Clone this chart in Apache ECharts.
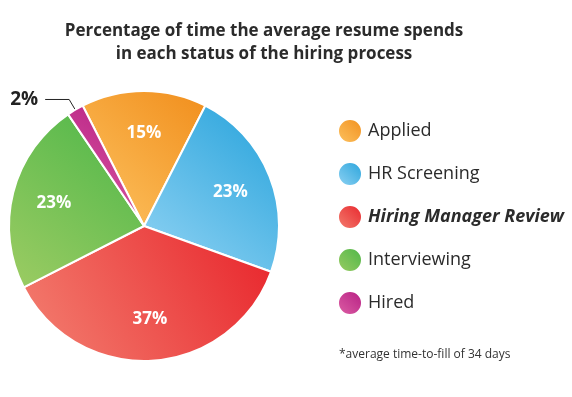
<!DOCTYPE html>
<html>
<head>
<meta charset="utf-8">
<script src="https://cdn.jsdelivr.net/npm/echarts@6/dist/echarts.min.js"></script>
<style>
  html, body { margin: 0; padding: 0; background: #fff; }
  #chart { width: 572px; height: 397px; }
</style>
</head>
<body>
<div id="chart"></div>
<script>
var stages = ['Applied', 'HR Screening', 'Hiring Manager Review', 'Interviewing', 'Hired'];
var shares = [15, 23, 37, 23, 2];
// light -> dark gradient stops for each slice
var lightColors = ['#FDC462', '#93D4F4', '#F38172', '#9DCC63', '#DE62A6'];
var darkColors = ['#F18E1C', '#25A2DB', '#E8232A', '#4BB648', '#B51C82'];

var chart = echarts.init(document.getElementById('chart'));

function grad(i) {
	return {
		type : 'linear',
		x : 0, y : 1, x2 : 1, y2 : 0,
		colorStops : [ { offset : 0, color : lightColors[i] }, { offset : 1, color : darkColors[i] } ]
	};
}

var mainData = stages.map(function(name, i) {
	var small = shares[i] < 5;
	return {
		name : name,
		value : shares[i],
		itemStyle : { color : grad(i) },
		label : { show : small },
		labelLine : { show : small }
	};
});

var labelData = stages.map(function(name, i) {
	return {
		name : name,
		value : shares[i],
		label : { show : shares[i] >= 5 }
	};
});

var font = '"Open Sans", "Noto Sans", sans-serif';

var option = {
	animation : false,
	textStyle : { fontFamily : font },
	legend : {
		orient : 'vertical',
		left : 332,
		top : 113,
		icon : 'circle',
		itemWidth : 24,
		itemHeight : 24,
		itemGap : 17,
		data : stages,
		selectedMode : false,
		textStyle : {
			fontFamily : font,
			fontSize : 18,
			color : '#2b2b2b',
			padding : [ 0, 0, 0, 1 ],
			rich : {
				b : { fontFamily : font, fontSize : 18, fontWeight : 'bold', fontStyle : 'italic', color : '#2b2b2b' }
			}
		},
		formatter : function(name) {
			return name === 'Hiring Manager Review' ? '{b|' + name + '}' : name;
		}
	},
	graphic : [ {
		type : 'text',
		x : 264,
		y : 20,
		style : {
			text : 'Percentage of time the average resume spends\nin each status of the hiring process',
			textAlign : 'center',
			font : 'bold 17px ' + font,
			lineHeight : 23,
			fill : '#2b2b2b'
		}
	}, {
		type : 'text',
		x : 339,
		y : 349,
		style : {
			text : '*average time-to-fill of 34 days',
			font : '12px ' + font,
			fill : '#333'
		}
	} ],
	series : [ {
		type : 'pie',
		center : [ 144, 226 ],
		radius : 135,
		startAngle : 117,
		clockwise : true,
		itemStyle : { borderColor : '#fff', borderWidth : 2 },
		label : {
			show : false,
			position : 'outside',
			formatter : '{c}%',
			fontFamily : font,
			fontSize : 19,
			fontWeight : 'bold',
			color : '#222',
			distanceToLabelLine : 7
		},
		labelLine : {
			show : false,
			length : 12,
			length2 : 24,
			lineStyle : { color : '#222', width : 1 }
		},
		emphasis : { disabled : true },
		data : mainData
	}, {
		type : 'pie',
		center : [ 144, 226 ],
		radius : [ 45, 135 ],
		startAngle : 117,
		clockwise : true,
		silent : true,
		itemStyle : { color : 'rgba(0,0,0,0)', borderWidth : 0 },
		label : {
			show : false,
			position : 'inside',
			formatter : '{c}%',
			fontFamily : font,
			fontSize : 17,
			fontWeight : 'bold',
			color : '#fff'
		},
		labelLine : { show : false },
		emphasis : { disabled : true },
		data : labelData
	} ]
};

chart.setOption(option);

window.onresize = function() {
	chart.resize();
};
</script>
</body>
</html>
